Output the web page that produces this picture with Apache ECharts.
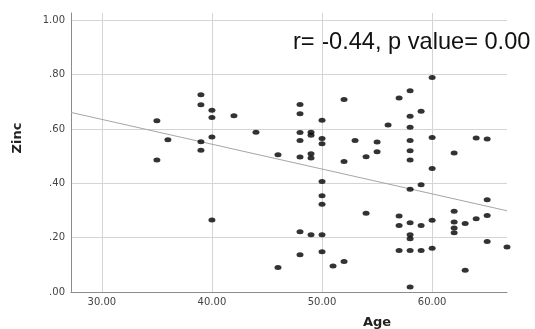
<!DOCTYPE html>
<html>
<head>
<meta charset="utf-8">
<script src="https://cdn.jsdelivr.net/npm/echarts@6/dist/echarts.min.js"></script>
<style>html,body{margin:0;padding:0;background:#fff;}#c{width:535px;height:329px;}</style>
</head>
<body>
<div id="c"></div>
<script>
const ages = [35,36,35,39,39,39,39,40,40,40,40,42,44,46,46,48,48,48,48,48,48,48,49,49,49,49,49,50,50,50,50,50,50,50,50,51,52,52,52,53,54,54,55,55,56,57,57,57,57,58,58,58,58,58,58,58,58,58,58,58,58,59,59,59,59,60,60,60,60,60,62,62,62,62,62,63,63,64,64,65,65,65,65,66.8];
const zinc = [0.630,0.560,0.486,0.726,0.689,0.553,0.522,0.669,0.642,0.571,0.265,0.649,0.588,0.505,0.090,0.690,0.656,0.587,0.558,0.497,0.222,0.137,0.588,0.577,0.509,0.493,0.211,0.632,0.565,0.546,0.407,0.354,0.323,0.211,0.148,0.096,0.709,0.480,0.112,0.558,0.498,0.290,0.552,0.516,0.615,0.714,0.280,0.245,0.153,0.741,0.647,0.606,0.558,0.520,0.486,0.378,0.255,0.211,0.196,0.153,0.018,0.665,0.395,0.245,0.153,0.790,0.569,0.455,0.264,0.161,0.512,0.297,0.258,0.236,0.218,0.252,0.080,0.567,0.270,0.563,0.340,0.282,0.186,0.166];
const fitX = [27.2, 66.8];
const fitY = [0.661, 0.299];
const xTitle = 'Age';
const yTitle = 'Zinc';
const note = 'r= -0.44, p value= 0.00';

const pts = ages.map((a, i) => [a, zinc[i]]);
const fit = fitX.map((x, i) => [x, fitY[i]]);

const chart = echarts.init(document.getElementById('c'));
chart.setOption({
  animation: false,
  backgroundColor: '#fff',
  grid: {left: 71, right: 28, top: 13, bottom: 37, outerBoundsMode: 'none', containLabel: false},
  xAxis: {
    type: 'value', min: 27.2, max: 66.8,
    axisLine: {show: true, lineStyle: {color: '#8c8c8c', width: 1}},
    axisTick: {show: false},
    axisLabel: {showMinLabel: false, showMaxLabel: false, margin: 5, color: '#444', fontFamily: 'DejaVu Sans', fontSize: 10,
      formatter: v => v.toFixed(2)},
    splitLine: {show: true, showMinLine: false, showMaxLine: false, lineStyle: {color: '#d4d4d4', width: 1}}
  },
  yAxis: {
    type: 'value', min: 0, max: 1.027, interval: 0.2,
    axisLine: {show: true, lineStyle: {color: '#8c8c8c', width: 1}},
    axisTick: {show: false},
    axisLabel: {showMaxLabel: false, margin: 6, color: '#444', fontFamily: 'DejaVu Sans', fontSize: 10,
      formatter: v => { const s = v.toFixed(2); return s.startsWith('0') ? s.slice(1) : s; }},
    splitLine: {show: true, showMinLine: false, showMaxLine: false, lineStyle: {color: '#d4d4d4', width: 1}}
  },
  series: [
    {type: 'line', data: fit, symbol: 'none', lineStyle: {color: '#a6a6a6', width: 1}, z: 2, silent: true},
    {type: 'scatter', data: pts, symbol: 'circle', symbolSize: [7, 5], itemStyle: {color: '#000'}, z: 3, clip: false}
  ],
  graphic: [
    {type: 'text', left: 293, top: 30, style: {text: note, fontFamily: 'Liberation Sans', fontSize: 23.6, fill: '#111'}},
    {type: 'text', x: 377, y: 323, style: {text: xTitle, fontFamily: 'DejaVu Sans', fontWeight: 'bold', fontSize: 13, fill: '#222', align: 'center', verticalAlign: 'middle'}},
    {type: 'text', x: 18, y: 138, rotation: Math.PI / 2, style: {text: yTitle, fontFamily: 'DejaVu Sans', fontWeight: 'bold', fontSize: 13, fill: '#222', align: 'center', verticalAlign: 'middle'}}
  ]
});
</script>
</body>
</html>
